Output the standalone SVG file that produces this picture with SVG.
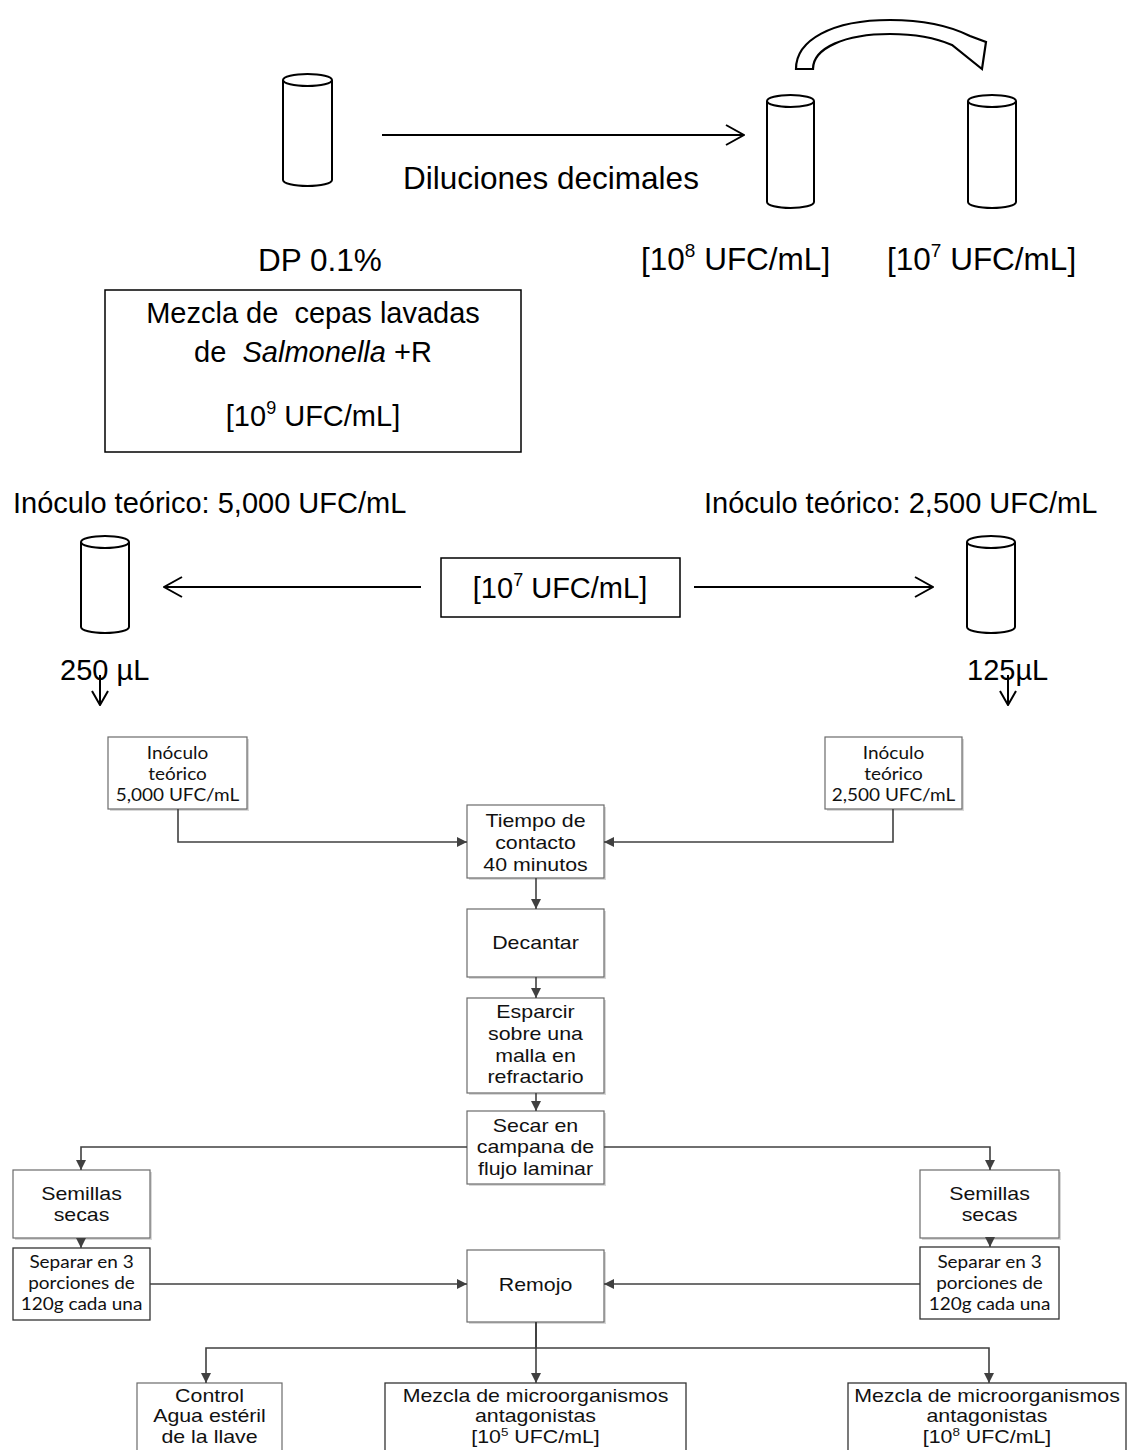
<svg xmlns="http://www.w3.org/2000/svg" width="1134" height="1450" viewBox="0 0 1134 1450">
<defs>
<style>
.t{font-family:"Liberation Sans",Arial,sans-serif;fill:#000}
.big{font-size:31.5px}
.mid{font-size:29px}
.ft{font-family:"Liberation Sans",Arial,sans-serif;font-size:17.5px;fill:#111;text-anchor:middle}
.fc{font-family:Lato,"Liberation Sans",sans-serif;font-size:16.5px;fill:#111;text-anchor:middle}
.cyl{fill:#fff;stroke:#000;stroke-width:2}
.line{fill:none;stroke:#000;stroke-width:2}
.con{fill:none;stroke:#404040;stroke-width:1.6}
.box{fill:#fff;stroke:#6b6b6b;stroke-width:1.2}
.boxd{fill:#fff;stroke:#333;stroke-width:1.3}
.shadow{fill:#d8d8d8}
.tbox{fill:#fff;stroke:#000;stroke-width:1.5}
</style>
<marker id="open" viewBox="0 0 20 22" refX="19" refY="11" markerWidth="20" markerHeight="22" markerUnits="userSpaceOnUse" orient="auto">
<path d="M1,1 L19,11 L1,21" fill="none" stroke="#000" stroke-width="2"/>
</marker>
<marker id="opens" viewBox="0 0 16 18" refX="15" refY="9" markerWidth="16" markerHeight="18" markerUnits="userSpaceOnUse" orient="auto">
<path d="M1,1 L15,9 L1,17" fill="none" stroke="#000" stroke-width="2"/>
</marker>
<marker id="tri" viewBox="0 0 10 10" refX="10" refY="5" markerWidth="11" markerHeight="10" markerUnits="userSpaceOnUse" orient="auto">
<path d="M0,0 L10,5 L0,10 Z" fill="#404040"/>
</marker>
</defs>
<rect width="1134" height="1450" fill="#fff"/>

<!-- top section -->
<g id="tube-dp">
<path class="cyl" d="M283,80 V180 A24.5,6 0 0 0 332,180 V80"/>
<ellipse class="cyl" cx="307.5" cy="80" rx="24.5" ry="6"/>
<text class="t big" x="258" y="271">DP 0.1%</text>
</g>
<g id="label-dil">
<text class="t big" x="403" y="189">Diluciones decimales</text>
</g>
<g id="tube-8">
<path class="cyl" d="M767,101 V202 A23.5,6 0 0 0 814,202 V101"/>
<ellipse class="cyl" cx="790.5" cy="101" rx="23.5" ry="6"/>
<text class="t big" x="641" y="270">[10<tspan font-size="19" dy="-13">8</tspan><tspan dy="13"> UFC/mL]</tspan></text>
</g>
<g id="tube-7">
<path class="cyl" d="M968,101 V202 A24,6 0 0 0 1016,202 V101"/>
<ellipse class="cyl" cx="992" cy="101" rx="24" ry="6"/>
<text class="t big" x="887" y="270">[10<tspan font-size="19" dy="-13">7</tspan><tspan dy="13"> UFC/mL]</tspan></text>
</g>
<g id="curved-arrow">
<path d="M796,69 L813,69 C813,48 845,34 890,34 C915,34 936,38 952,45 L982,69 L986,42 L970,36 C950,26 922,20 890,20 C832,20 796,40 796,69 Z" fill="#fff" stroke="#000" stroke-width="2.2" stroke-linejoin="miter"/>
</g>
<g id="box-mezcla">
<rect class="tbox" x="105" y="290" width="416" height="162"/>
<text class="t mid" x="313" y="323" text-anchor="middle" xml:space="preserve">Mezcla de  cepas lavadas</text>
<text class="t mid" x="313" y="362" text-anchor="middle" xml:space="preserve">de  <tspan font-style="italic">Salmonella</tspan> +R</text>
<text class="t mid" x="313" y="426" text-anchor="middle">[10<tspan font-size="18" dy="-12">9</tspan><tspan dy="12"> UFC/mL]</tspan></text>
</g>

<g id="label-5000">
<text class="t mid" x="13" y="513">Inóculo teórico: 5,000 UFC/mL</text>
</g>
<g id="label-2500">
<text class="t mid" x="704" y="513">Inóculo teórico: 2,500 UFC/mL</text>
</g>
<g id="tube-250">
<path class="cyl" d="M81,542 V627 A24,6 0 0 0 129,627 V542"/>
<ellipse class="cyl" cx="105" cy="542" rx="24" ry="6"/>
<text class="t mid" x="60" y="680">250 µL</text>
</g>
<g id="tube-125">
<path class="cyl" d="M967,542 V627 A24,6 0 0 0 1015,627 V542"/>
<ellipse class="cyl" cx="991" cy="542" rx="24" ry="6"/>
<text class="t mid" x="967" y="680">125µL</text>
</g>
<g id="box-107">
<rect class="tbox" x="441" y="558" width="239" height="59"/>
<text class="t mid" x="560" y="598" text-anchor="middle">[10<tspan font-size="18" dy="-12">7</tspan><tspan dy="12"> UFC/mL]</tspan></text>
</g>

<!-- flowchart nodes -->
<g id="n-inoc5000">
<rect class="shadow" x="110" y="739" width="139" height="72"/>
<rect class="box" x="108" y="737" width="139" height="72"/>
<g transform="translate(177.5 0) scale(1.15 1)">
<text class="fc" x="0" y="759">Inóculo</text>
<text class="fc" x="0" y="780">teórico</text>
<text class="fc" x="0" y="801">5,000 UFC/mL</text>
</g>
</g>
<g id="n-inoc2500">
<rect class="shadow" x="827" y="739" width="137" height="72"/>
<rect class="box" x="825" y="737" width="137" height="72"/>
<g transform="translate(893.5 0) scale(1.15 1)">
<text class="fc" x="0" y="759">Inóculo</text>
<text class="fc" x="0" y="780">teórico</text>
<text class="fc" x="0" y="801">2,500 UFC/mL</text>
</g>
</g>
<g id="n-tiempo">
<rect class="shadow" x="469" y="807" width="137" height="73"/>
<rect class="box" x="467" y="805" width="137" height="73"/>
<g transform="translate(535.5 0) scale(1.22 1)">
<text class="ft" x="0" y="827">Tiempo de</text>
<text class="ft" x="0" y="849">contacto</text>
<text class="ft" x="0" y="871">40 minutos</text>
</g>
</g>
<g id="n-decantar">
<rect class="shadow" x="469" y="911" width="137" height="68"/>
<rect class="box" x="467" y="909" width="137" height="68"/>
<g transform="translate(535.5 0) scale(1.22 1)">
<text class="ft" x="0" y="949">Decantar</text>
</g>
</g>
<g id="n-esparcir">
<rect class="shadow" x="469" y="1000" width="137" height="95"/>
<rect class="box" x="467" y="998" width="137" height="95"/>
<g transform="translate(535.5 0) scale(1.22 1)">
<text class="ft" x="0" y="1018">Esparcir</text>
<text class="ft" x="0" y="1040">sobre una</text>
<text class="ft" x="0" y="1062">malla en</text>
<text class="ft" x="0" y="1083">refractario</text>
</g>
</g>
<g id="n-secar">
<rect class="shadow" x="469" y="1113" width="137" height="73"/>
<rect class="box" x="467" y="1111" width="137" height="73"/>
<g transform="translate(535.5 0) scale(1.22 1)">
<text class="ft" x="0" y="1132">Secar en</text>
<text class="ft" x="0" y="1153">campana de</text>
<text class="ft" x="0" y="1175">flujo laminar</text>
</g>
</g>
<g id="n-semillas-l">
<rect class="shadow" x="15" y="1172" width="137" height="68"/>
<rect class="box" x="13" y="1170" width="137" height="68"/>
<g transform="translate(81.5 0) scale(1.22 1)">
<text class="ft" x="0" y="1200">Semillas</text>
<text class="ft" x="0" y="1221">secas</text>
</g>
</g>
<g id="n-semillas-r">
<rect class="shadow" x="922" y="1172" width="139" height="68"/>
<rect class="box" x="920" y="1170" width="139" height="68"/>
<g transform="translate(989.5 0) scale(1.22 1)">
<text class="ft" x="0" y="1200">Semillas</text>
<text class="ft" x="0" y="1221">secas</text>
</g>
</g>
<g id="n-separar-l">
<rect class="boxd" x="13" y="1248" width="137" height="72"/>
<g transform="translate(81.5 0) scale(1.15 1)">
<text class="fc" x="0" y="1268">Separar en 3</text>
<text class="fc" x="0" y="1289">porciones de</text>
<text class="fc" x="0" y="1310">120g cada una</text>
</g>
</g>
<g id="n-separar-r">
<rect class="boxd" x="920" y="1247" width="139" height="72"/>
<g transform="translate(989.5 0) scale(1.15 1)">
<text class="fc" x="0" y="1268">Separar en 3</text>
<text class="fc" x="0" y="1289">porciones de</text>
<text class="fc" x="0" y="1310">120g cada una</text>
</g>
</g>
<g id="n-remojo">
<rect class="shadow" x="469" y="1252" width="137" height="72"/>
<rect class="box" x="467" y="1250" width="137" height="72"/>
<g transform="translate(535.5 0) scale(1.22 1)">
<text class="ft" x="0" y="1291">Remojo</text>
</g>
</g>
<g id="n-control">
<rect class="box" x="137" y="1383" width="145" height="80"/>
<g transform="translate(209.5 0) scale(1.22 1)">
<text class="ft" x="0" y="1402">Control</text>
<text class="ft" x="0" y="1422">Agua estéril</text>
<text class="ft" x="0" y="1443">de la llave</text>
</g>
</g>
<g id="n-mezcla5">
<rect class="boxd" x="385" y="1383" width="301" height="80"/>
<g transform="translate(535.5 0) scale(1.22 1)">
<text class="ft" x="0" y="1402">Mezcla de microorganismos</text>
<text class="ft" x="0" y="1422">antagonistas</text>
<text class="ft" x="0" y="1443">[10<tspan font-size="11" dy="-7">5</tspan><tspan dy="7"> UFC/mL]</tspan></text>
</g>
</g>
<g id="n-mezcla8">
<rect class="boxd" x="848" y="1383" width="278" height="80"/>
<g transform="translate(987 0) scale(1.22 1)">
<text class="ft" x="0" y="1402">Mezcla de microorganismos</text>
<text class="ft" x="0" y="1422">antagonistas</text>
<text class="ft" x="0" y="1443">[10<tspan font-size="11" dy="-7">8</tspan><tspan dy="7"> UFC/mL]</tspan></text>
</g>
</g>

<!-- connectors -->
<g id="connectors">
<path class="line" d="M382,135 H744" marker-end="url(#open)"/>
<path class="line" d="M421,587 H164" marker-end="url(#open)"/>
<path class="line" d="M694,587 H933" marker-end="url(#open)"/>
<path class="line" d="M100,675 V705" marker-end="url(#opens)"/>
<path class="line" d="M1008,675 V705" marker-end="url(#opens)"/>

<path class="con" d="M178,809 V842 H467" marker-end="url(#tri)"/>
<path class="con" d="M893,809 V842 H604" marker-end="url(#tri)"/>
<path class="con" d="M536,878 V909" marker-end="url(#tri)"/>
<path class="con" d="M536,977 V998" marker-end="url(#tri)"/>
<path class="con" d="M536,1093 V1111" marker-end="url(#tri)"/>
<path class="con" d="M467,1147 H81 V1170" marker-end="url(#tri)"/>
<path class="con" d="M604,1147 H990 V1170" marker-end="url(#tri)"/>
<path class="con" d="M81,1238 V1248" marker-end="url(#tri)"/>
<path class="con" d="M990,1238 V1247" marker-end="url(#tri)"/>
<path class="con" d="M150,1284 H467" marker-end="url(#tri)"/>
<path class="con" d="M920,1284 H604" marker-end="url(#tri)"/>
<path class="con" d="M536,1322 V1348 H206 V1383" marker-end="url(#tri)"/>
<path class="con" d="M536,1322 V1383" marker-end="url(#tri)" stroke-width="2.6"/>
<path class="con" d="M536,1322 V1348 H989 V1383" marker-end="url(#tri)"/>
</g>
</svg>
